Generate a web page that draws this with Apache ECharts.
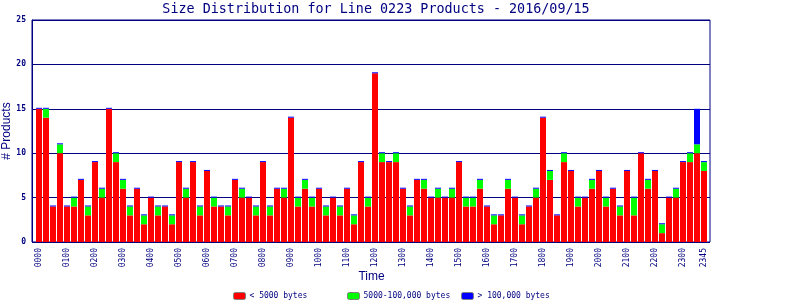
<!DOCTYPE html>
<html>
<head>
<meta charset="utf-8">
<script src="https://cdn.jsdelivr.net/npm/echarts@6/dist/echarts.min.js"></script>
<style>html,body{margin:0;padding:0;background:#fff}#c{width:800px;height:300px}</style>
</head>
<body>
<div id="c"></div>
<script>
var categories = [];
(function(){for (var h = 0; h < 24; h++) for (var m = 0; m < 60; m += 15) categories.push((h<10?'0':'')+h+(m<10?'0':'')+m);})();
var small = [15,14,4,10,4,4,7,3,9,5,15,9,6,3,6,2,5,3,4,2,9,5,9,3,8,4,4,3,7,5,5,3,9,3,6,5,14,4,6,4,6,3,5,3,6,2,9,4,19,9,9,9,6,3,7,6,5,5,5,5,9,4,4,6,4,2,3,6,5,2,4,5,14,7,3,9,8,4,5,6,8,4,6,3,8,3,10,6,8,1,5,5,9,9,10,8];
var medium = [0,1,0,1,0,1,0,1,0,1,0,1,1,1,0,1,0,1,0,1,0,1,0,1,0,1,0,1,0,1,0,1,0,1,0,1,0,1,1,1,0,1,0,1,0,1,0,1,0,1,0,1,0,1,0,1,0,1,0,1,0,1,1,1,0,1,0,1,0,1,0,1,0,1,0,1,0,1,0,1,0,1,0,1,0,2,0,1,0,1,0,1,0,1,1,1];
var large = [0,0,0,0,0,0,0,0,0,0,0,0,0,0,0,0,0,0,0,0,0,0,0,0,0,0,0,0,0,0,0,0,0,0,0,0,0,0,0,0,0,0,0,0,0,0,0,0,0,0,0,0,0,0,0,0,0,0,0,0,0,0,0,0,0,0,0,0,0,0,0,0,0,0,0,0,0,0,0,0,0,0,0,0,0,0,0,0,0,0,0,0,0,0,4,0];
var yTicks = [0,5,10,15,20,25];
var seriesNames = ['< 5000 bytes','5000-100,000 bytes','> 100,000 bytes'];
var NAVY = '#000080';
var chart = echarts.init(document.getElementById('c'));
var legendBase = {orient:'horizontal', top:292, padding:0, itemWidth:12, itemHeight:7, itemGap:10,
  itemStyle:{borderColor:'#808080', borderWidth:1},
  textStyle:{color:NAVY, fontFamily:'DejaVu Sans Mono', fontSize:8, padding:[0,0,0,-1]}};
chart.setOption({
  animation:false,
  title:{text:'Size Distribution for Line 0223 Products - 2016/09/15', left:371, textAlign:'center', top:-2,
    textStyle:{color:NAVY, fontFamily:'DejaVu Sans Mono', fontWeight:'normal', fontSize:13.4}},
  legend:[
    Object.assign({}, legendBase, {left:233, data:[seriesNames[0]]}),
    Object.assign({}, legendBase, {left:347, data:[seriesNames[1]]}),
    Object.assign({}, legendBase, {left:461, data:[seriesNames[2]]})
  ],
  grid:[
    {left:32, right:90, top:20, bottom:58, show:true, borderColor:NAVY, borderWidth:1, backgroundColor:'transparent', outerBoundsMode:'none', containLabel:false},
    {left:35.5, width:672, top:20, bottom:58, outerBoundsMode:'none', containLabel:false}
  ],
  xAxis:[
    {type:'value', gridIndex:0, show:false, min:0, max:1},
    {type:'category', gridIndex:1, data:categories,
      axisLine:{show:false}, axisTick:{show:false},
      axisLabel:{rotate:90, margin:6, color:NAVY, fontFamily:'DejaVu Sans Mono', fontSize:8,
        interval:function(i){return i%4===0 || i===categories.length-1;}},
      name:'Time', nameLocation:'middle', nameGap:29, nameMoveOverlap:false,
      nameTextStyle:{color:NAVY, fontFamily:'Liberation Sans', fontSize:12}}
  ],
  yAxis:[
    {type:'value', gridIndex:0, min:yTicks[0], max:yTicks[yTicks.length-1], interval:5,
      axisLine:{show:true, lineStyle:{color:NAVY}}, axisTick:{show:false},
      splitLine:{show:true, lineStyle:{color:NAVY, width:1}},
      axisLabel:{color:NAVY, fontFamily:'DejaVu Sans Mono', fontSize:8, fontWeight:'bold', margin:6},
      name:'# Products', nameLocation:'middle', nameGap:19, nameMoveOverlap:false,
      nameTextStyle:{color:NAVY, fontFamily:'Liberation Sans', fontSize:12}},
    {type:'value', gridIndex:1, min:0, max:25, show:false}
  ],
  series:[
    {name:seriesNames[0], type:'bar', stack:'s', xAxisIndex:1, yAxisIndex:1, data:small, barWidth:6, itemStyle:{color:'#ff0000'}},
    {name:seriesNames[1], type:'bar', stack:'s', xAxisIndex:1, yAxisIndex:1, data:medium, barWidth:6, itemStyle:{color:'#00ff00'}},
    {name:seriesNames[2], type:'bar', stack:'s', xAxisIndex:1, yAxisIndex:1, data:large, barWidth:6, barMinHeight:1, itemStyle:{color:'#0000ff'}}
  ]
});
</script>
</body>
</html>
